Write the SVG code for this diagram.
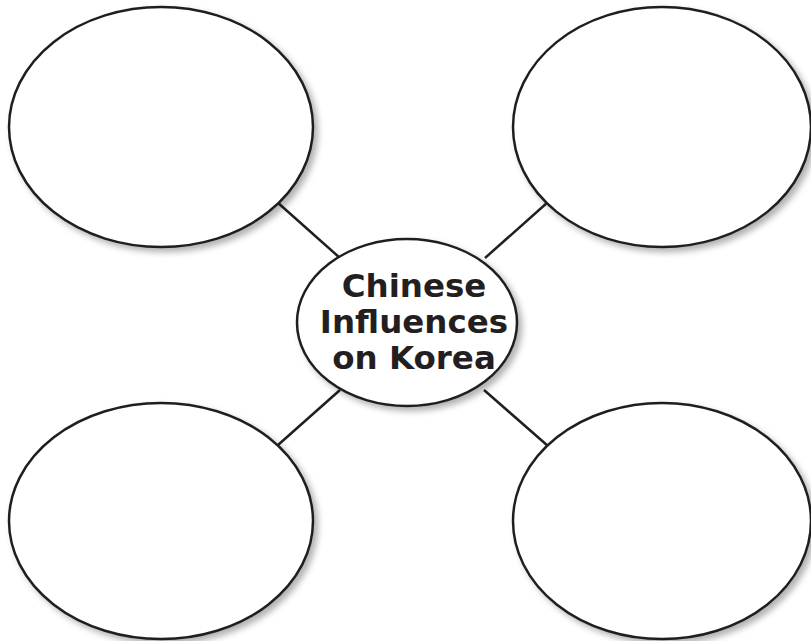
<svg xmlns="http://www.w3.org/2000/svg" width="811" height="641" viewBox="0 0 811 641">
<style>
.node ellipse { fill: #ffffff; stroke: #231f20; stroke-width: 2.5; filter: url(#sh); }
.conn line { stroke: #231f20; stroke-width: 2.5; }
.lbl { font-family: "DejaVu Sans", Verdana, sans-serif; font-weight: bold; font-size: 32.5px; fill: #231f20; text-anchor: middle; }
</style>
<defs>
<filter id="sh" x="-10%" y="-10%" width="125%" height="125%">
<feDropShadow dx="4" dy="4" stdDeviation="3" flood-color="#000" flood-opacity="0.3"/>
</filter>
</defs>
<rect width="811" height="641" fill="#ffffff"/>
<g id="connectors" class="conn">
<line x1="277" y1="202" x2="340" y2="258"/>
<line x1="548" y1="202" x2="485" y2="258"/>
<line x1="278" y1="445" x2="340" y2="390"/>
<line x1="548" y1="446" x2="484" y2="390"/>
</g>
<g id="node-top-left" class="node"><ellipse cx="161" cy="127" rx="152" ry="120"/></g>
<g id="node-top-right" class="node"><ellipse cx="662" cy="127" rx="149" ry="120"/></g>
<g id="node-bottom-left" class="node"><ellipse cx="161" cy="521" rx="152" ry="118"/></g>
<g id="node-bottom-right" class="node"><ellipse cx="662" cy="521" rx="149" ry="118"/></g>
<g id="node-center" class="node">
<ellipse cx="407" cy="322.5" rx="110" ry="83.5"/>
<text class="lbl" x="414" y="297">Chinese</text>
<text class="lbl" x="414" y="333">Influences</text>
<text class="lbl" x="414" y="369">on Korea</text>
</g>
</svg>
